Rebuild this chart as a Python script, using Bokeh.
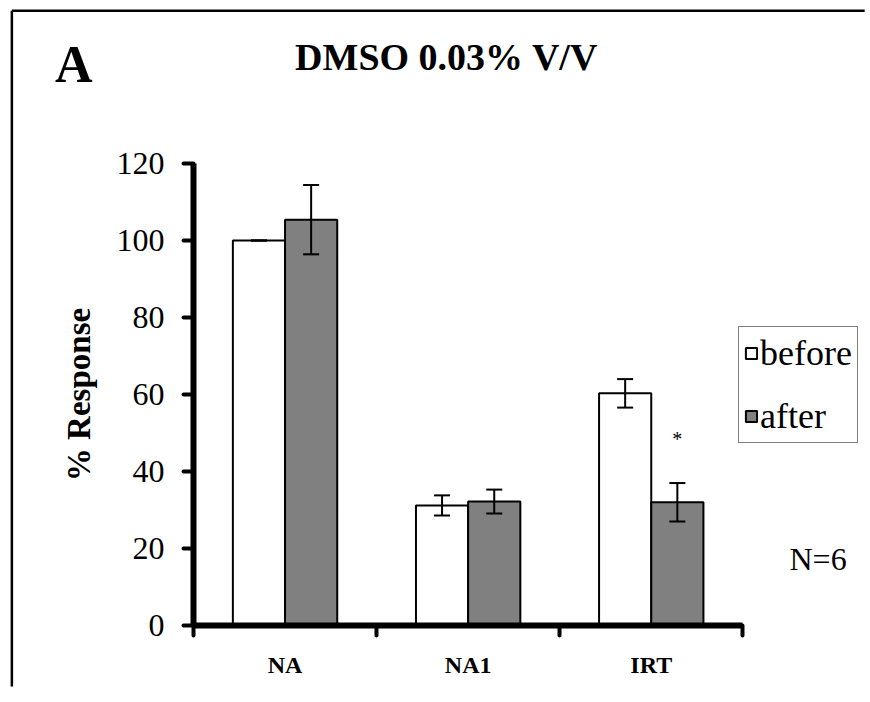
from bokeh.plotting import figure
from bokeh.models import (Range1d, FixedTicker, Whisker, TeeHead, ColumnDataSource,
                          Legend, LegendItem)
from bokeh.core.properties import value
from bokeh.embed import file_html
from bokeh.resources import INLINE

# ---------------- data ----------------
categories = ["NA", "NA1", "IRT"]
series_names = ["before", "after"]
before = [100.0, 31.2, 60.3]
before_err = [0.0, 2.6, 3.7]
after = [105.4, 32.2, 32.0]
after_err = [9.0, 3.1, 5.0]
y_ticks = [0, 20, 40, 60, 80, 100, 120]

FONT = "Liberation Serif"
W, H = 866, 688
BAR_W = 0.285
N_CAT = len(categories)
X_END = (W - 193) / 183.1

idx = list(range(N_CAT))
src_b = ColumnDataSource(dict(
    x=[i + 0.5 - BAR_W / 2 for i in idx], top=before,
    upper=[v + e for v, e in zip(before, before_err)],
    lower=[v - e for v, e in zip(before, before_err)]))
src_a = ColumnDataSource(dict(
    x=[i + 0.5 + BAR_W / 2 for i in idx], top=after,
    upper=[v + e for v, e in zip(after, after_err)],
    lower=[v - e for v, e in zip(after, after_err)]))

p = figure(width=W, height=H, output_backend="svg", toolbar_location=None,
           x_range=Range1d(0, X_END), y_range=Range1d(0, 120),
           min_border_left=193, min_border_right=0, min_border_top=163,
           min_border_bottom=H - 625)
p.xgrid.visible = False
p.ygrid.visible = False
p.outline_line_color = None
p.background_fill_color = "white"
p.border_fill_color = "white"

# bars
rb = p.vbar(x="x", top="top", bottom=0, width=BAR_W, source=src_b,
            fill_color="white", line_color="black", line_width=2)
ra = p.vbar(x="x", top="top", bottom=0, width=BAR_W, source=src_a,
            fill_color="#808080", line_color="black", line_width=2)

for src in (src_b, src_a):
    w = Whisker(source=src, base="x", upper="upper", lower="lower",
                line_color="black", line_width=2, level="annotation",
                upper_head=TeeHead(size=16, line_color="black", line_width=2),
                lower_head=TeeHead(size=16, line_color="black", line_width=2))
    p.add_layout(w)

# x axis
xa = p.xaxis[0]
xa.bounds = (0, N_CAT)
xa.ticker = FixedTicker(ticks=[i + 0.5 for i in idx], minor_ticks=list(range(N_CAT + 1)))
xa.major_label_overrides = {i + 0.5: c for i, c in zip(idx, categories)}
xa.major_tick_line_color = None
xa.major_tick_out = 0
xa.major_tick_in = 0
xa.minor_tick_out = 10
xa.minor_tick_in = 0
xa.minor_tick_line_width = 4
xa.minor_tick_line_color = "black"
xa.minor_tick_line_cap = "round"
xa.axis_line_width = 6
xa.axis_line_color = "black"
xa.major_label_text_font = FONT
xa.major_label_text_font_style = "bold"
xa.major_label_text_font_size = "24px"
xa.major_label_text_color = "black"
xa.major_label_standoff = 16

# y axis
ya = p.yaxis[0]
ya.ticker = FixedTicker(ticks=y_ticks, minor_ticks=[])
ya.major_tick_out = 10
ya.major_tick_in = 0
ya.major_tick_line_width = 4
ya.major_tick_line_color = "black"
ya.major_tick_line_cap = "round"
ya.minor_tick_line_color = None
ya.axis_line_width = 6
ya.axis_line_color = "black"
ya.major_label_text_font = FONT
ya.major_label_text_font_size = "32px"
ya.major_label_text_color = "black"
ya.major_label_standoff = 19
ya.axis_label = "% Response"
ya.axis_label_text_font = FONT
ya.axis_label_text_font_style = "bold"
ya.axis_label_text_font_size = "33px"
ya.axis_label_text_color = "black"
ya.axis_label_standoff = 17

# texts (overlay level so they are not clipped to the plot frame)
p.text(x=[-0.654], y=[145.7], text=["A"], text_font=value(FONT), text_font_style="bold",
       text_font_size="52px", text_align="center", text_baseline="alphabetic",
       text_color="black", level="overlay")
p.text(x=[1.382], y=[147.6], text=["DMSO 0.03% V/V"], text_font=value(FONT),
       text_font_style="bold", text_font_size="38px", text_align="center",
       text_baseline="alphabetic", text_color="black", level="overlay")
p.text(x=[3.255], y=[17.2], text=["N=6"], text_font=value(FONT), text_font_size="32px",
       text_align="left", text_baseline="alphabetic", text_color="black", level="overlay")
p.text(x=[2.5 + BAR_W / 2], y=[48.4], text=["*"], text_font=value(FONT),
       text_font_size="20px", text_align="center", text_baseline="alphabetic",
       text_color="black", level="overlay")

# outer border (left and top edges of the chart box), kept inside the canvas
p.segment(x0=[-0.992, -0.992], y0=[-(H - 627) / 3.85, 159.66],
          x1=[-0.992, X_END - 0.01], y1=[159.66, 159.66],
          line_color="black", line_width=2.5, level="overlay")

# legend
legend = Legend(items=[LegendItem(label=value(series_names[0]), renderers=[rb]),
                       LegendItem(label=value(series_names[1]), renderers=[ra])],
                location=(545, 182.0), orientation="vertical", padding=5, spacing=21,
                margin=0, glyph_width=14, glyph_height=14, label_standoff=2,
                label_text_font=FONT, label_text_font_size="36px", label_text_color="black",
                border_line_color="black", border_line_width=1,
                background_fill_color="white", background_fill_alpha=1.0)
p.add_layout(legend)

open("out.html", "w").write(file_html(p, INLINE))
